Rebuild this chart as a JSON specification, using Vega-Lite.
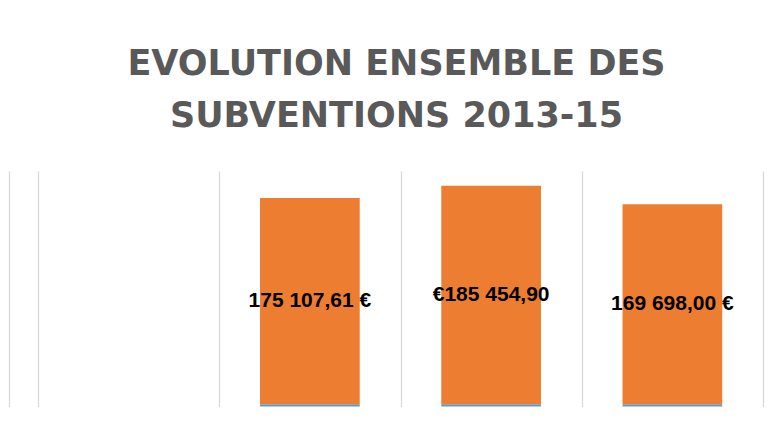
{
  "$schema": "https://vega.github.io/schema/vega-lite/v6.json",
  "width": 725,
  "height": 235.5,
  "autosize": {"type": "none"},
  "padding": {"left": 38, "top": 171, "right": 16, "bottom": 16},
  "background": "#ffffff",
  "title": {
    "text": ["EVOLUTION ENSEMBLE DES", "SUBVENTIONS 2013-15"],
    "font": "DejaVu Sans",
    "fontWeight": "bold",
    "fontSize": 35,
    "lineHeight": 52,
    "color": "#595959",
    "anchor": "middle",
    "baseline": "alphabetic",
    "offset": 9,
    "dx": -4
  },
  "config": {"view": {"stroke": null}},
  "data": {
    "values": [
      {"cat": "2", "series": "Année", "ord": 1, "value": 2013, "label": ""},
      {"cat": "2", "series": "Montant", "ord": 2, "value": 175107.61, "label": "175 107,61 €"},
      {"cat": "3", "series": "Année", "ord": 1, "value": 2014, "label": ""},
      {"cat": "3", "series": "Montant", "ord": 2, "value": 185454.90, "label": "€185 454,90"},
      {"cat": "4", "series": "Année", "ord": 1, "value": 2015, "label": ""},
      {"cat": "4", "series": "Montant", "ord": 2, "value": 169698.00, "label": "169 698,00 €"}
    ]
  },
  "encoding": {
    "x": {
      "field": "cat",
      "type": "nominal",
      "scale": {"domain": ["1", "2", "3", "4"], "paddingInner": 0, "paddingOuter": 0},
      "axis": {
        "title": null,
        "labels": false,
        "ticks": false,
        "domain": false,
        "grid": true,
        "tickBand": "extent",
        "gridColor": "#d9d9d9",
        "gridWidth": 1.3,
        "gridOpacity": 1
      }
    },
    "y": {
      "field": "value",
      "type": "quantitative",
      "stack": "zero",
      "scale": {"domain": [0, 200000], "nice": false},
      "axis": {
        "title": null,
        "labels": false,
        "ticks": false,
        "grid": false,
        "domain": true,
        "domainColor": "#d9d9d9",
        "domainWidth": 1.3,
        "offset": 29
      }
    },
    "order": {"field": "ord", "type": "quantitative"}
  },
  "layer": [
    {
      "mark": {"type": "bar", "width": {"band": 0.55}},
      "encoding": {
        "color": {
          "field": "series",
          "type": "nominal",
          "scale": {"domain": ["Année", "Montant"], "range": ["#5B9BD5", "#ED7D31"]},
          "legend": null
        }
      }
    },
    {
      "mark": {
        "type": "text",
        "font": "Liberation Sans",
        "fontWeight": "bold",
        "fontSize": 21,
        "color": "#000000",
        "baseline": "middle",
        "align": "center"
      },
      "encoding": {
        "y": {"field": "value", "type": "quantitative", "stack": "zero", "bandPosition": 0.5},
        "detail": {"field": "series"},
        "text": {"field": "label"}
      }
    }
  ]
}
